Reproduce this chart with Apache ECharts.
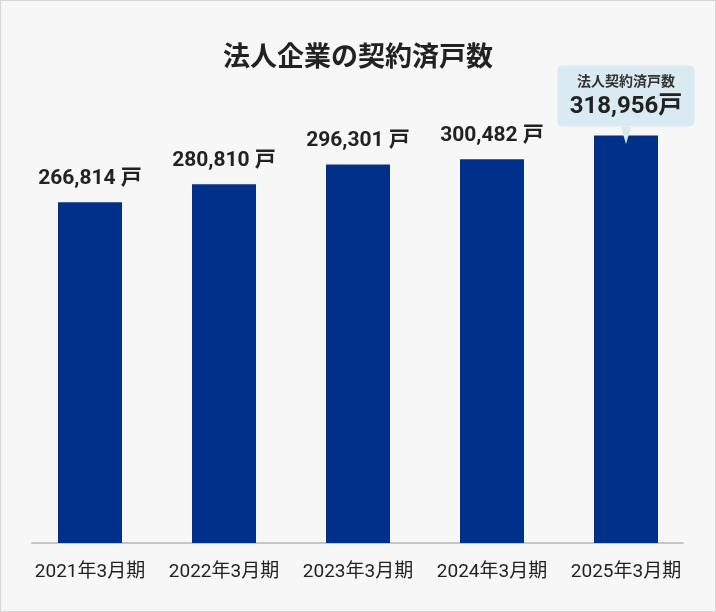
<!DOCTYPE html>
<html>
<head>
    <meta charset="utf-8">
    <title>法人企業の契約済戸数</title>
    <script src="https://cdn.jsdelivr.net/npm/echarts@6/dist/echarts.min.js"></script>
    <style>
        html, body { margin: 0; padding: 0; background: #ffffff; }
        #main {
            width: 716px; height: 612px;
            box-sizing: border-box;
            border: 1px solid #d6d6d6;
            background: #f7f7f7;
        }
    </style>
</head>
<body>
    <div id="main"></div>
    <script type="text/javascript">
        // データ
        var categories = ['2021年3月期', '2022年3月期', '2023年3月期', '2024年3月期', '2025年3月期'];
        var values = [266814, 280810, 296301, 300482, 318956];
        var calloutTitle = '法人契約済戸数';

        var fontFamily = 'Roboto, "Noto Sans CJK JP", sans-serif';
        var myChart = echarts.init(document.getElementById('main'));

        var lastIndex = values.length - 1;
        var barData = [];
        for (var i = 0; i < values.length; i++) {
            var item = { value: values[i] };
            if (i === lastIndex) {
                // 最新年度は吹き出しで表示
                item.label = {
                    distance: 9,
                    width: 137,
                    padding: [7, 0, 6, 0],
                    backgroundColor: '#d9eaf3',
                    borderRadius: 5,
                    align: 'center',
                    formatter: function (p) {
                        return '{a|' + calloutTitle + '}\n{b|' + p.value.toLocaleString('en-US') + '戸}';
                    },
                    rich: {
                        a: { fontSize: 14, fontWeight: 'bold', color: '#333', lineHeight: 20, align: 'center', fontFamily: fontFamily },
                        b: { fontSize: 24, fontWeight: 'bold', color: '#222', lineHeight: 28, align: 'center', fontFamily: fontFamily }
                    }
                };
            }
            barData.push(item);
        }

        var option = {
            backgroundColor: '#f7f7f7',
            animation: false,
            title: {
                text: '法人企業の契約済戸数',
                left: 'center',
                top: 40,
                textStyle: { fontSize: 27, fontWeight: 'bold', color: '#222', fontFamily: fontFamily }
            },
            grid: [
                { left: 22, right: 22, top: 31, bottom: 68 },
                { left: 31, right: 32, top: 31, bottom: 68 }
            ],
            xAxis: [
                {
                    type: 'category',
                    gridIndex: 0,
                    data: categories,
                    axisLine: { show: false },
                    axisTick: { show: false },
                    axisLabel: { interval: 0, margin: 20, fontSize: 19, color: '#222', fontFamily: fontFamily }
                },
                {
                    type: 'category',
                    gridIndex: 1,
                    data: categories,
                    axisLine: { show: true, lineStyle: { color: '#c6c6c6', width: 2 } },
                    axisTick: { show: false },
                    axisLabel: { show: false }
                }
            ],
            yAxis: [
                { type: 'value', gridIndex: 0, min: 0, max: 400000, show: false, splitLine: { show: false } },
                { type: 'value', gridIndex: 1, min: 0, max: 400000, show: false, splitLine: { show: false } }
            ],
            series: [{
                type: 'bar',
                xAxisIndex: 0,
                yAxisIndex: 0,
                barWidth: 64,
                data: barData,
                itemStyle: { color: '#00308a' },
                label: {
                    show: true,
                    position: 'top',
                    distance: 13,
                    fontSize: 21,
                    fontWeight: 'bold',
                    color: '#222',
                    fontFamily: fontFamily,
                    formatter: function (p) {
                        return p.value.toLocaleString('en-US') + ' 戸';
                    }
                },
                markPoint: {
                    silent: true,
                    symbol: 'triangle',
                    symbolRotate: 180,
                    symbolSize: [10, 17],
                    itemStyle: { color: '#d9eaf3' },
                    label: { show: false },
                    data: [{ coord: [lastIndex, values[lastIndex]] }]
                }
            }]
        };

        myChart.setOption(option);

        window.addEventListener('resize', function () {
            myChart.resize();
        });
    </script>
</body>
</html>
